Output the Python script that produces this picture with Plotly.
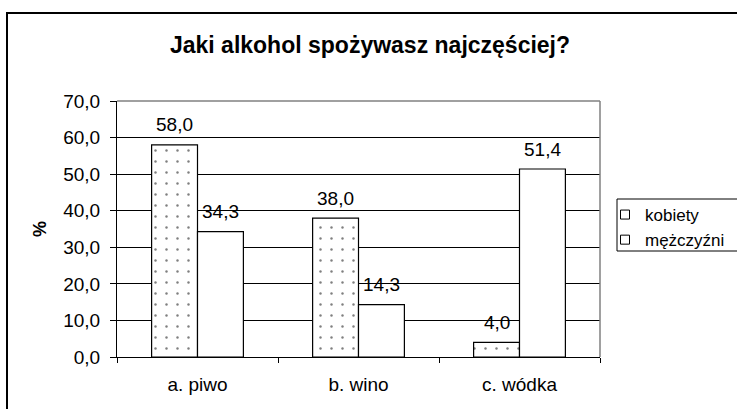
import plotly.graph_objects as go

categories = ["a. piwo", "b. wino", "c. wódka"]
kobiety = [58.0, 38.0, 4.0]
mezczyzni = [34.3, 14.3, 51.4]
series_names = ["kobiety", "mężczyźni"]
y_ticks = [0, 10, 20, 30, 40, 50, 60, 70]

FONT = "Liberation Sans, Arial, sans-serif"
W, H = 737, 409
L, R, T, B = 117, 137, 101, 52
PW, PH = W - L - R, H - T - B

def px2x(px):
    return (px - L) / PW

def px2y(py):
    return (H - B - py) / PH

fig = go.Figure()
fig.add_trace(go.Bar(
    x=categories, y=kobiety, name=series_names[0], showlegend=False,
    marker=dict(color="white", line=dict(color="black", width=1.2),
                pattern=dict(shape=".", size=11, solidity=0.04, fgcolor="black", bgcolor="white")),
))
fig.add_trace(go.Bar(
    x=categories, y=mezczyzni, name=series_names[1], showlegend=False,
    marker=dict(color="white", line=dict(color="black", width=1.2)),
))
for nm in series_names:
    fig.add_trace(go.Scatter(
        x=[None], y=[None], mode="markers", name=nm,
        marker=dict(symbol="square", size=9, color="white", line=dict(color="black", width=1)),
    ))

annotations = []
for vals, shift in ((kobiety, -23), (mezczyzni, 23)):
    for c, v in zip(categories, vals):
        annotations.append(dict(
            x=c, y=v, xref="x", yref="y", text=f"{v:.1f}".replace(".", ","),
            showarrow=False, xshift=shift, yshift=20, yanchor="middle",
            font=dict(family=FONT, size=19, color="black"),
        ))
annotations.append(dict(
    x=px2x(40), y=0.5, xref="paper", yref="paper", text="<b>%</b>", textangle=-90,
    showarrow=False, xanchor="center", yanchor="middle",
    font=dict(family=FONT, size=18, color="black"),
))

shapes = [
    # outer chart frame
    dict(type="rect", xref="paper", yref="paper", x0=px2x(7), x1=px2x(900),
         y0=px2y(500), y1=px2y(13), line=dict(color="black", width=2)),
    # plot area border top/right (gray)
    dict(type="line", xref="paper", yref="paper", x0=0, x1=1, y0=1, y1=1,
         line=dict(color="#808080", width=1.5)),
    dict(type="line", xref="paper", yref="paper", x0=1, x1=1, y0=0, y1=1,
         line=dict(color="#808080", width=1.5)),
    # legend frame
    dict(type="rect", xref="paper", yref="paper", x0=px2x(617), x1=px2x(900),
         y0=px2y(251), y1=px2y(199), line=dict(color="black", width=1)),
]

fig.update_layout(
    width=W, height=H,
    margin=dict(l=L, r=R, t=T, b=B, autoexpand=False),
    paper_bgcolor="white", plot_bgcolor="white",
    separators=", ",
    barmode="group", bargap=0.43, bargroupgap=0,
    title=dict(text="<b>Jaki alkohol spożywasz najczęściej?</b>", x=370 / W, xref="container",
               xanchor="center", y=1 - 45 / H, yref="container", yanchor="middle",
               font=dict(family=FONT, size=23, color="black")),
    font=dict(family=FONT, size=19, color="black"),
    showlegend=True,
    legend=dict(x=px2x(605), y=px2y(197), xanchor="left", yanchor="top",
                bgcolor="rgba(0,0,0,0)", borderwidth=0,
                font=dict(family=FONT, size=17, color="black"),
                tracegroupgap=0),
    annotations=annotations,
    shapes=shapes,
)
fig.update_xaxes(
    type="category", showline=True, linecolor="black", linewidth=1,
    ticks="outside", ticklen=5, tickcolor="black", tickson="boundaries",
    showgrid=False, ticklabelstandoff=10,
    tickfont=dict(family=FONT, size=19, color="black"),
)
fig.update_yaxes(
    range=[0, 70], tickvals=y_ticks, tickformat=".1f",
    showline=True, linecolor="black", linewidth=1,
    ticks="outside", ticklen=6, tickcolor="black",
    showgrid=True, gridcolor="black", gridwidth=1, zeroline=False,
    ticklabelstandoff=6,
    tickfont=dict(family=FONT, size=19, color="black"),
)

fig.write_html("out.html", config={"displayModeBar": False},
               post_script="document.body.style.margin='0px';")
